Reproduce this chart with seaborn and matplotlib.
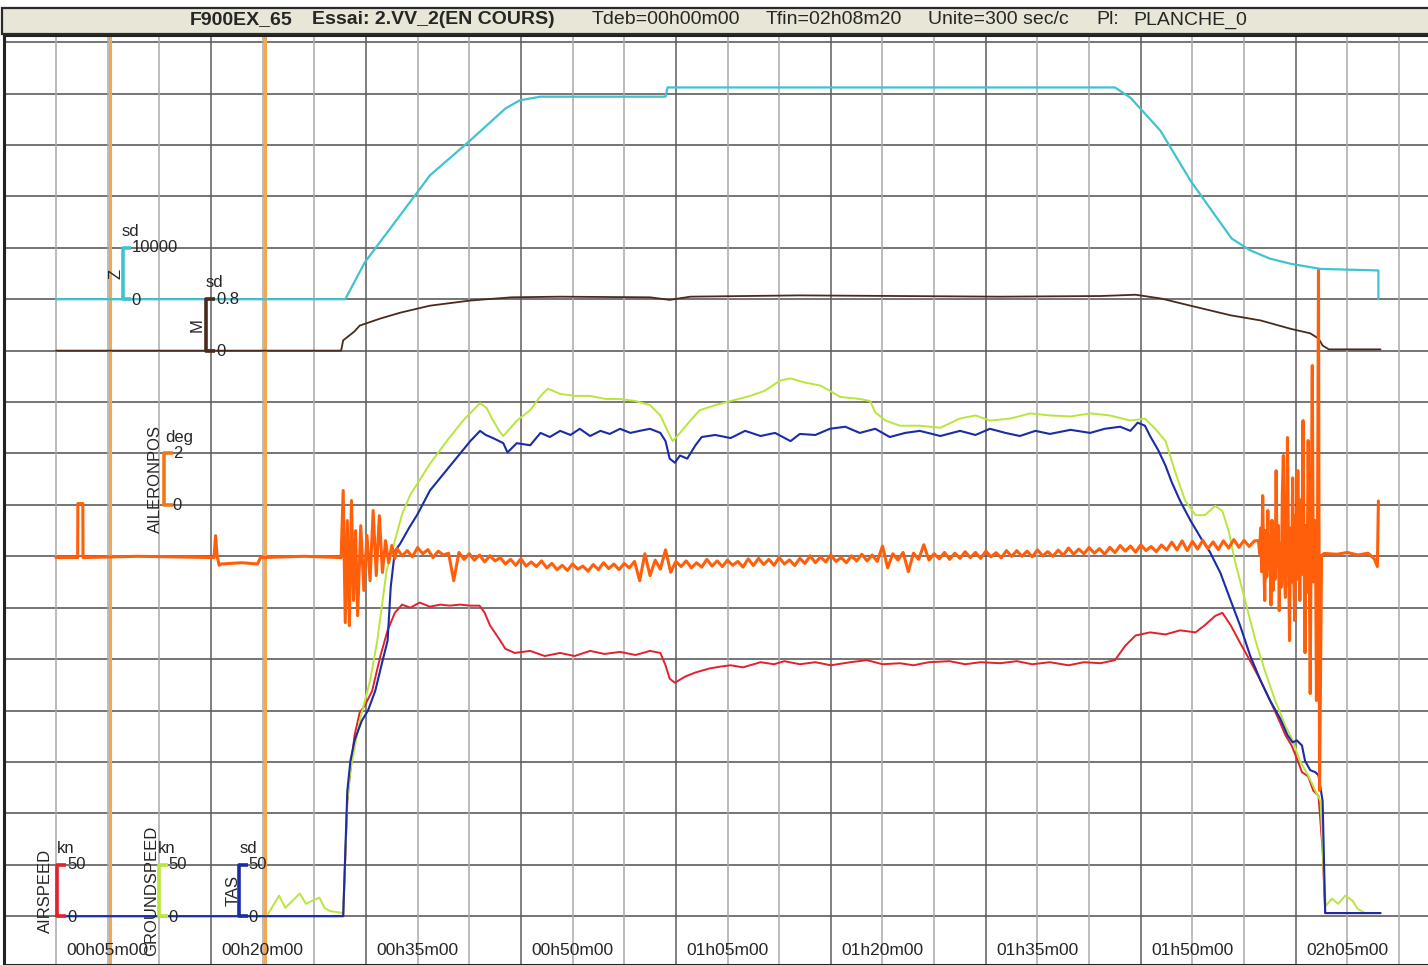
import numpy as np
import matplotlib
matplotlib.use('Agg')
import matplotlib.pyplot as plt
import seaborn as sns
from matplotlib.patches import Rectangle

sns.set_style('white')
plt.rcParams['font.family'] = ['Liberation Sans', 'DejaVu Sans']

# ---- values, time in minutes ----
# altitude Z (ft)
z_t = [0.0, 28.0, 29.9, 33.3, 36.2, 40.1, 43.5, 44.9, 46.9, 59.0, 59.2, 102.5, 104.0,
       106.9, 109.8, 112.2, 113.8, 115.6, 117.5, 119.5, 122.4, 128.0, 128.0]
z_ft = [0, 0, 7200, 16300, 24100, 30900, 37100, 38700, 39400, 39400, 41200, 41200, 39200,
        32800, 23100, 16300, 11800, 9500, 7900, 6900, 5900, 5600, 0]

# Mach number M
m_t = [0.0, 27.6, 27.8, 28.9, 29.4, 31.4, 33.3, 36.2, 40.1, 44.1, 48.8, 57.5, 59.4, 61.4,
       72.0, 91.4, 101.1, 104.5, 107.0, 109.8, 113.7, 116.6, 119.5, 121.4, 122.2, 122.6,
       123.2, 128.2]
m_val = [0, 0, 0.16, 0.30, 0.39, 0.50, 0.59, 0.70, 0.78, 0.83, 0.84, 0.83, 0.79, 0.84,
         0.86, 0.84, 0.85, 0.87, 0.81, 0.70, 0.55, 0.47, 0.34, 0.27, 0.19, 0.08, 0.02, 0.02]

# AIRSPEED (kn)
as_t = [0.0, 27.8, 28.2, 28.5, 28.9, 29.4, 29.9, 30.6, 31.4, 32.1, 32.8, 33.5, 34.3, 35.2,
        36.2, 37.2, 38.1, 39.1, 40.1, 41.0, 41.5, 42.0, 43.0, 43.5, 44.4, 45.9, 47.3, 48.8,
        50.2, 51.7, 53.1, 54.6, 56.1, 57.5, 58.5, 59.0, 59.4, 59.9, 60.9, 61.9, 63.3, 64.5,
        65.3, 66.5, 68.2, 69.5, 70.5, 72.0, 73.5, 75.0, 76.9, 78.5, 80.0, 81.7, 83.0, 84.5,
        86.5, 88.0, 89.5, 91.4, 93.0, 94.5, 96.2, 98.0, 99.5, 101.1, 102.5, 103.5, 104.5,
        105.9, 107.4, 108.8, 110.3, 111.2, 112.2, 112.9, 113.7, 114.6, 115.6, 116.6, 117.5,
        118.5, 119.0, 119.6, 120.2, 120.6, 121.2, 121.7, 122.2, 122.6, 122.85, 128.2]
as_kn = [0, 0, 112, 142, 176, 198, 205, 219, 253, 278, 295, 303, 300, 305,
         301, 303, 302, 303, 302, 302, 295, 283, 268, 260, 256, 258, 253, 256,
         253, 258, 255, 257, 254, 258, 256, 244, 231, 227, 233, 237, 241, 243,
         244, 242, 247, 245, 248, 245, 247, 244, 247, 249, 245, 246, 244, 247,
         248, 245, 247, 246, 248, 245, 247, 244, 247, 246, 249, 263, 273,
         276, 274, 278, 276, 283, 292, 295, 283, 266, 248, 229, 210,
         188, 176, 166, 151, 140, 136, 122, 117, 64, 3, 3]

# GROUNDSPEED (kn)
gs_t = [0.0, 20.4, 21.0, 21.6, 22.2, 22.9, 23.6, 24.2, 24.8, 25.5, 26.0, 26.5, 27.8, 28.2,
        28.5, 29.4, 30.4, 31.1, 32.0, 32.8, 33.5, 34.3, 35.0, 36.2, 37.9, 39.4, 41.05, 41.7,
        42.2, 42.9, 43.3, 44.1, 44.6, 45.9, 46.9, 47.6, 48.8, 50.2, 51.7, 53.2, 54.6, 56.1,
        57.5, 58.5, 59.2, 59.7, 60.4, 61.4, 62.3, 63.8, 65.3, 67.2, 68.6, 70.1, 71.1, 72.5,
        74.0, 74.9, 75.9, 77.8, 78.8, 79.3, 80.3, 81.7, 83.6, 85.6, 87.5, 89.0, 90.4, 92.4,
        94.3, 96.2, 98.2, 100.1, 102.0, 104.0, 105.4, 106.4, 107.4, 108.3, 109.3, 110.3,
        111.2, 112.2, 112.9, 113.5, 114.1, 115.1, 116.1, 117.0, 118.0, 119.0, 119.7, 120.4,
        121.2, 121.9, 122.4, 122.75, 122.9, 123.5, 124.1, 124.8, 125.5, 126.0, 126.7]
gs_kn = [0, 0, 10, 20, 8, 15, 22, 12, 15, 18, 8, 5, 3, 112,
         142, 190, 229, 268, 336, 365, 391, 410, 421, 440, 463, 482, 499, 494,
         484, 472, 467, 476, 482, 492, 506, 513, 508, 506, 506, 503, 503, 501,
         497, 487, 472, 462, 470, 482, 492, 497, 501, 506, 511, 521, 523, 519,
         516, 511, 505, 503, 501, 490, 482, 477, 477, 475, 484, 487, 482, 484,
         489, 487, 486, 489, 487, 482, 484, 474, 462, 433, 404, 390,
         390, 399, 394, 375, 346, 307, 268, 239, 210, 185, 171, 151,
         137, 122, 112, 35, 10, 17, 12, 20, 15, 7, 3]

# TAS (kn)
tas_t = [0.0, 27.8, 28.2, 28.5, 28.9, 29.6, 30.2, 30.9, 31.6, 32.1, 32.4, 32.8, 33.3,
         34.2, 35.0, 36.2, 37.5, 38.8, 40.1, 41.05, 41.6, 42.3, 43.3, 43.7, 44.6, 45.9,
         46.9, 47.8, 48.8, 49.8, 50.7, 51.7, 52.7, 53.6, 54.6, 55.6, 56.5, 57.5, 58.5,
         59.0, 59.4, 59.9, 60.4, 61.1, 61.9, 62.5, 63.8, 65.3, 66.7, 68.2, 69.6, 71.1,
         72.0, 73.5, 74.9, 76.4, 77.8, 79.3, 80.7, 82.2, 83.6, 85.6, 87.5, 89.0, 90.4,
         91.9, 93.3, 94.8, 96.2, 98.2, 100.1, 101.5, 103.0, 104.0, 104.7, 105.4, 105.9,
         106.7, 107.4, 108.0, 108.8, 109.8, 110.8, 111.7, 112.7, 113.7, 114.6, 115.6,
         116.6, 117.5, 118.5, 119.2, 119.7, 120.1, 120.6, 120.9, 121.4, 121.9, 122.2,
         122.6, 122.85, 128.2]
tas_kn = [0, 0, 122, 151, 171, 190, 200, 219, 248, 268, 320, 355, 362,
          378, 391, 414, 430, 446, 462, 472, 468, 465, 460, 451, 460, 458,
          470, 466, 472, 468, 474, 467, 472, 469, 474, 470, 472, 474, 470,
          462, 445, 441, 448, 445, 458, 466, 468, 465, 472, 467, 470, 462,
          469, 468, 474, 476, 470, 474, 466, 470, 472, 467, 472, 468, 474,
          470, 467, 472, 469, 473, 470, 474, 476, 472, 480, 477, 467,
          453, 438, 422, 404, 385, 368, 354, 334, 307, 283, 253,
          229, 210, 192, 176, 169, 171, 166, 151, 142, 140, 137,
          112, 3, 3]

# AILERONPOS (deg): on ground, take-off, cruise, landing
ail_ground_t = [0.0, 2.1, 2.12, 2.6, 2.62, 8.0, 15.3, 15.45, 15.6, 15.8, 16.0, 18.0, 19.5,
                19.8, 24.0, 27.6]
ail_ground_deg = [-2.05, -2.05, 0.05, 0.05, -2.05, -2.0, -2.05, -1.2, -2.0, -2.35, -2.3,
                  -2.25, -2.3, -2.05, -2.0, -2.05]
ail_to_t = [27.8, 28.0, 28.2, 28.4, 28.6, 28.8, 29.0, 29.2, 29.5, 29.8, 30.1, 30.4, 30.7,
            31.0, 31.3, 31.6, 31.9, 32.2, 32.5, 32.8]
ail_to_deg = [0.56, -4.58, -0.61, -4.70, 0.17, -3.72, -1.00, -4.31, -0.81, -3.33, -1.19,
              -2.95, -0.22, -2.75, -0.42, -2.63, -1.39, -2.25, -1.58, -2.09]
ail_cr_t = [33.0, 33.5, 34.0, 34.5, 35.0, 35.5, 36.0, 36.5, 37.0, 37.5,
            38.0, 38.5, 39.0, 39.5, 40.0, 40.5, 41.0, 41.5, 42.0, 42.5,
            43.0, 43.5, 44.0, 44.5, 45.0, 45.5, 46.0, 46.5, 47.0, 47.5,
            48.0, 48.5, 49.0, 49.5, 50.0, 50.5, 51.0, 51.5, 52.0, 52.5,
            53.0, 53.5, 54.0, 54.5, 55.0, 55.5, 56.0, 56.5, 57.0, 57.5,
            58.0, 58.5, 59.0, 59.5, 60.0, 60.5, 61.0, 61.5, 62.0, 62.5,
            63.0, 63.5, 64.0, 64.5, 65.0, 65.5, 66.0, 66.5, 67.0, 67.5,
            68.0, 68.5, 69.0, 69.5, 70.0, 70.5, 71.0, 71.5, 72.0, 72.5,
            73.0, 73.5, 74.0, 74.5, 75.0, 75.5, 76.0, 76.5, 77.0, 77.5,
            78.0, 78.5, 79.0, 79.5, 80.0, 80.5, 81.0, 81.5, 82.0, 82.5,
            83.0, 83.5, 84.0, 84.5, 85.0, 85.5, 86.0, 86.5, 87.0, 87.5,
            88.0, 88.5, 89.0, 89.5, 90.0, 90.5, 91.0, 91.5, 92.0, 92.5,
            93.0, 93.5, 94.0, 94.5, 95.0, 95.5, 96.0, 96.5, 97.0, 97.5,
            98.0, 98.5, 99.0, 99.5, 100.0, 100.5, 101.0, 101.5, 102.0, 102.5,
            103.0, 103.5, 104.0, 104.5, 105.0, 105.5, 106.0, 106.5, 107.0, 107.5,
            108.0, 108.5, 109.0, 109.5, 110.0, 110.5, 111.0, 111.5, 112.0, 112.5,
            113.0, 113.5, 114.0, 114.5, 115.0, 115.5, 116.0]
ail_cr_deg = [-1.70, -1.98, -1.78, -2.02, -1.66, -1.90, -1.74, -2.05, -1.80, -1.95,
              -1.88, -2.95, -1.85, -2.12, -1.90, -2.15, -1.95, -2.22, -1.98, -2.18,
              -2.05, -2.30, -2.12, -2.35, -2.10, -2.38, -2.22, -2.40, -2.18, -2.45,
              -2.28, -2.52, -2.35, -2.55, -2.30, -2.50, -2.38, -2.58, -2.32, -2.52,
              -2.25, -2.48, -2.30, -2.52, -2.28, -2.45, -2.20, -2.95, -1.90, -2.75,
              -2.15, -2.50, -1.75, -2.62, -2.20, -2.40, -2.18, -2.45, -2.25, -2.42,
              -2.12, -2.38, -2.18, -2.40, -2.15, -2.35, -2.20, -2.42, -2.10, -2.36,
              -2.08, -2.32, -2.12, -2.35, -2.05, -2.30, -2.14, -2.36, -2.08, -2.28,
              -1.98, -2.25, -2.02, -2.22, -1.95, -2.20, -2.05, -2.25, -1.98, -2.18,
              -1.92, -2.18, -1.95, -2.20, -1.60, -2.45, -1.90, -2.15, -1.85, -2.60,
              -1.88, -2.12, -1.55, -2.15, -1.90, -2.10, -1.85, -2.12, -1.88, -2.08,
              -1.82, -2.05, -1.85, -2.08, -1.80, -2.02, -1.86, -2.06, -1.78, -2.00,
              -1.78, -2.00, -1.80, -2.02, -1.75, -1.98, -1.82, -2.00, -1.76, -1.96,
              -1.68, -1.92, -1.72, -1.90, -1.66, -1.88, -1.70, -1.92, -1.65, -1.86,
              -1.58, -1.80, -1.60, -1.84, -1.55, -1.78, -1.62, -1.82, -1.56, -1.76,
              -1.45, -1.75, -1.40, -1.78, -1.42, -1.72, -1.38, -1.70, -1.44, -1.74,
              -1.40, -1.68, -1.35, -1.65, -1.38, -1.62, -1.40]
ail_ldg_t = [116.4, 116.5, 116.6, 116.7, 116.8, 116.9, 117.0, 117.1, 117.2, 117.3,
             117.4, 117.5, 117.6, 117.7, 117.8, 117.9, 118.0, 118.1, 118.2, 118.3,
             118.4, 118.5, 118.6, 118.7, 118.8, 118.9, 119.0, 119.1, 119.2, 119.3,
             119.4, 119.5, 119.6, 119.7, 119.8, 119.9, 120.0, 120.1, 120.2, 120.3,
             120.4, 120.5, 120.6, 120.7, 120.8, 120.9, 121.0, 121.1, 121.2, 121.3,
             121.4, 121.5, 121.6, 121.7, 121.8, 121.9, 122.0, 122.1, 122.2, 122.3,
             122.5, 122.75, 124.0, 125.0, 126.0, 127.0, 127.6, 127.9, 128.0]
ail_ldg_deg = [-1.39, -1.90, -0.90, -2.60, 0.36, -2.20, -3.72, -1.00, -2.80, -0.22,
               -2.50, -1.20, -3.90, -0.60, -3.33, -1.10, -2.90, 1.33, -2.40, -0.80,
               -4.11, -1.50, -3.20, 0.40, 1.92, -2.80, -3.60, -0.50, 2.62, -1.90,
               -5.28, -0.90, -3.00, 1.05, -2.60, -4.50, -0.40, -2.90, 1.33, -1.80,
               -3.72, 0.20, -2.70, 3.28, -1.60, -5.75, -0.80, -3.40, 2.50, -2.00,
               -7.34, -0.30, 5.42, -3.00, -1.20, -0.61, -7.61, -1.50, 9.12, -11.11,
               -1.97, -1.89, -1.92, -1.85, -1.95, -1.88, -2.10, -2.40, 0.15]

x_labels = ['00h05m00', '00h20m00', '00h35m00', '00h50m00', '01h05m00',
            '01h20m00', '01h35m00', '01h50m00', '02h05m00']
x_label_t = [5, 20, 35, 50, 65, 80, 95, 110, 125]
marker_t = [5.25, 20.25]


def to_row(values, zero_row, per_cell):
    # each channel sits on its own band of the grid
    return zero_row + np.asarray(values, dtype=float) / per_cell


def trace(t, rows, color, lw, z):
    sns.lineplot(x=t, y=rows, ax=ax, color=color, lw=lw, estimator=None,
                 sort=False, legend=False, zorder=z)


def scale_bar(x0, zero_row, color, top, unit, unit_x, name, name_x, lbl_x):
    ax.plot([x0 + 0.85, x0, x0, x0 + 0.85], [zero_row + 1, zero_row + 1, zero_row, zero_row],
            color=color, lw=2.6, solid_capstyle='butt', zorder=7)
    fs = 12
    ax.text(lbl_x, zero_row + 1, top, fontsize=fs, va='center', ha='left', zorder=8)
    ax.text(lbl_x, zero_row - 0.02, '0', fontsize=fs, va='center', ha='left', zorder=8)
    ax.text(unit_x, zero_row + 1.32, unit, fontsize=fs, va='center', ha='center', zorder=8)
    ax.text(name_x, zero_row + 0.5, name, fontsize=fs, va='center', ha='center',
            rotation=90, zorder=8)


fig = plt.figure(figsize=(14.28, 9.65), dpi=100)
ax = fig.add_axes([4 / 1428, 0, 1 - 4 / 1428, 1 - 35 / 965])
ax.set_xlim(-5.03, 132.8)
ax.set_ylim(-0.95, 17.14)

# grid: one cell = 5 min (Unite=300 sec/c)
for r in range(-1, 18):
    ax.axhline(r, color='#4f4f4f', lw=1.1, zorder=1)
for t in range(0, 135, 5):
    dark = t % 15 == 0 and t > 0
    ax.axvline(t, color='#5c5c5c' if dark else '#a9a9a9', lw=1.1, zorder=1)
for t in marker_t:
    ax.axvline(t, color='#f2a850', lw=2.2, zorder=2)

trace(z_t, to_row(z_ft, 12, 10000), '#3fc3d3', 1.6, 3)
trace(m_t, to_row(m_val, 11, 0.8), '#4a2a1c', 1.3, 3)
trace(as_t, to_row(as_kn, 0, 50), '#e3202c', 1.4, 4)
trace(gs_t, to_row(gs_kn, 0, 50), '#b9e63c', 1.4, 4)
trace(tas_t, to_row(tas_kn, 0, 50), '#1a2ca6', 1.5, 5)

ail_t = ail_ground_t + ail_to_t + ail_cr_t + ail_ldg_t
ail_deg = ail_ground_deg + ail_to_deg + ail_cr_deg + ail_ldg_deg
trace(ail_t, to_row(ail_deg, 8, 2), '#ff5f0a', 2.2, 6)

scale_bar(6.46, 12, '#3fc3d3', '10000', 'sd', 7.16, 'Z', 5.81, 7.3)
scale_bar(14.57, 11, '#4a2a1c', '0.8', 'sd', 15.3, 'M', 13.65, 15.55)
scale_bar(10.48, 8, '#f07818', '2', 'deg', 11.9, 'AILERONPOS', 9.6, 11.3)
scale_bar(0.13, 0, '#e3202c', '50', 'kn', 0.97, 'AIRSPEED', -0.97, 1.1)
scale_bar(10.0, 0, '#b9e63c', '50', 'kn', 10.75, 'GROUNDSPEED', 9.29, 10.9)
scale_bar(17.74, 0, '#1a2ca6', '50', 'sd', 18.63, 'TAS', 17.1, 18.65)

for t, lbl in zip(x_label_t, x_labels):
    ax.text(t, -0.67, lbl, fontsize=12.5, ha='center', va='center', zorder=8)

ax.set_xticks([])
ax.set_yticks([])
for side in ['left', 'top', 'bottom']:
    ax.spines[side].set_color('#222222')
    ax.spines[side].set_linewidth(2.2)
ax.spines['right'].set_visible(False)

# title bar
fig.patches.append(Rectangle((2 / 1428, 1 - 34 / 965), 1, 26 / 965, transform=fig.transFigure,
                             facecolor='#e8e6d6', edgecolor='#2a2a2a', lw=1.6, zorder=0))
ty = 1 - 20 / 965
title_parts = [(190, 'F900EX_65', 'bold'), (312, 'Essai: 2.VV_2(EN COURS)', 'bold'),
               (592, 'Tdeb=00h00m00', 'normal'), (766, 'Tfin=02h08m20', 'normal'),
               (928, 'Unite=300 sec/c', 'normal'), (1096, 'Pl:', 'normal'),
               (1133, 'PLANCHE_0', 'normal')]
for px, txt, w in title_parts:
    fig.text(px / 1428, ty, txt, fontsize=14, fontweight=w, ha='left', va='center')

fig.savefig('out.png', dpi=100)
